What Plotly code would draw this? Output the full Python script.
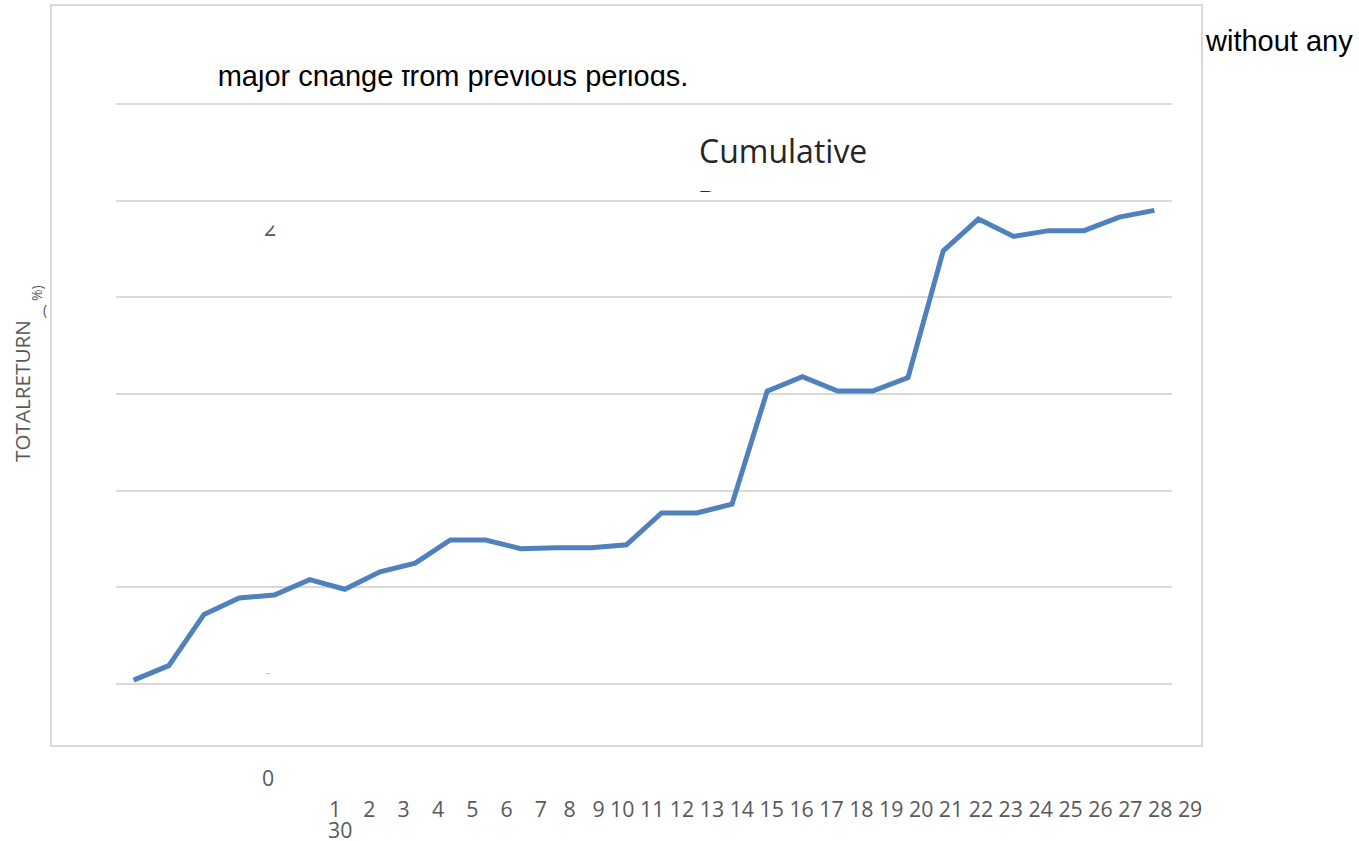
import plotly.graph_objects as go

W, H = 1359, 841

# ---- data -------------------------------------------------------------
periods = list(range(1, 31))
cumulative_return = [0.04, 0.19, 0.72, 0.89, 0.92, 1.08, 0.98, 1.16, 1.25, 1.49,
                     1.49, 1.40, 1.41, 1.41, 1.44, 1.77, 1.77, 1.86, 3.03, 3.18,
                     3.03, 3.03, 3.17, 4.48, 4.81, 4.63, 4.69, 4.69, 4.83, 4.90]

period_labels = ["1", "2", "3", "4", "5", "6", "7", "8", "9", "10",
                 "11", "12", "13", "14", "15", "16", "17", "18", "19", "20",
                 "21", "22", "23", "24", "25", "26", "27", "28", "29"]
first_label = "0"
last_label = "30"

body_text_right = "without any"
body_text_left = "major change from previous periods."
chart_title = ["Cumulative", "Return"]
y_title = "TOTALRETURN"

# ---- styling ------------------------------------------------------------
LINE_BLUE = "#4f81bd"
GRID = "#d9d9d9"
LABEL_GREY = "#595959"
ARIAL = "Liberation Sans, Arial, sans-serif"
SANS = "Open Sans, Roboto, sans-serif"
MID = 0.16  # baseline offset (in em) of a "middle" text point


def fx(p):
    return p / W


def fy(p):
    return 1 - p / H


# label row: wider gaps after the single-digit labels
NB = "\u00a0"
gaps = []
for lab in period_labels[:-1]:
    if len(lab) == 1 and int(lab) <= 6:
        gaps.append(4)
    elif lab in ("7", "8"):
        gaps.append(3)
    else:
        gaps.append(1)
row_text = "".join(lab + NB * g for lab, g in zip(period_labels, gaps + [0]))

fig = go.Figure()

# main series
fig.add_trace(go.Scatter(
    x=periods, y=cumulative_return, mode="lines",
    line=dict(color=LINE_BLUE, width=5),
    hoverinfo="skip", showlegend=False, xaxis="x", yaxis="y",
))

layout = dict(
    width=W, height=H, autosize=False,
    margin=dict(l=0, r=0, t=0, b=0, pad=0),
    paper_bgcolor="white", plot_bgcolor="rgba(0,0,0,0)",
    showlegend=False,
    xaxis=dict(domain=[fx(116), fx(1172)], range=[0.5, 30.5],
               showgrid=False, zeroline=False, showline=False,
               showticklabels=False, ticks="", fixedrange=True),
    yaxis=dict(domain=[fy(684 + 4.83), fy(104 - 4.83)], range=[-0.05, 6.05],
               tick0=0, dtick=1, showgrid=True, gridcolor=GRID, gridwidth=2,
               zeroline=False, showline=False, showticklabels=False,
               ticks="", fixedrange=True),
)


# text fragments that are cut off by a window: each one lives in its own
# invisible subplot whose plotting area acts as the clip rectangle
def clipped_text(idx, text, cx, baseline, box, font):
    left, top, right, bottom = box
    layout[f"xaxis{idx}"] = dict(domain=[fx(left), fx(right)], range=[left, right],
                                 visible=False, anchor=f"y{idx}", fixedrange=True)
    layout[f"yaxis{idx}"] = dict(domain=[fy(bottom), fy(top)], range=[bottom, top],
                                 visible=False, anchor=f"x{idx}", fixedrange=True)
    fig.add_trace(go.Scatter(
        x=[cx], y=[baseline - MID * font["size"]], mode="text", text=[text],
        textposition="middle center", textfont=font, cliponaxis=True,
        hoverinfo="skip", showlegend=False, xaxis=f"x{idx}", yaxis=f"y{idx}",
    ))


clipped_text(2, body_text_left, 453, 83, (200, 70, 720, 100),
             dict(family=ARIAL, size=29, color="black"))
clipped_text(3, chart_title[1], 748, 212, (680, 176, 880, 192),
             dict(family=SANS, size=32, color="#262626"))
clipped_text(4, "2", 270, 234, (255, 225.5, 285, 240),
             dict(family=SANS, size=21.3, color=LABEL_GREY))
clipped_text(5, "0", 268, 687, (255, 670, 285, 674),
             dict(family=SANS, size=21.3, color="#bfbfbf"))

annotations = [
    dict(text=body_text_right, x=fx(1203), y=fy(41), xanchor="left", yanchor="middle",
         font=dict(family=ARIAL, size=29, color="black")),
    dict(text=chart_title[0], x=fx(782.5), y=fy(150.6), xanchor="center", yanchor="middle",
         font=dict(family=SANS, size=32, color="#262626")),
    dict(text=y_title, x=fx(22), y=fy(391), textangle=-90, xanchor="center", yanchor="middle",
         font=dict(family=SANS, size=20.7, color=LABEL_GREY)),
    dict(text="%)", x=fx(37), y=fy(293), textangle=-90, xanchor="center", yanchor="middle",
         font=dict(family=SANS, size=14, color=LABEL_GREY)),
    dict(text="(", x=fx(45), y=fy(309), xanchor="center", yanchor="middle",
         font=dict(family=SANS, size=14, color=LABEL_GREY)),
    dict(text=first_label, x=fx(268), y=fy(777), xanchor="center", yanchor="middle",
         font=dict(family=SANS, size=21.3, color=LABEL_GREY)),
    dict(text=row_text, x=fx(327), y=fy(808), xanchor="left", yanchor="middle",
         font=dict(family=SANS, size=21.3, color=LABEL_GREY)),
    dict(text=last_label, x=fx(340), y=fy(829), xanchor="center", yanchor="middle",
         font=dict(family=SANS, size=21.3, color=LABEL_GREY)),
]
for a in annotations:
    a.update(xref="paper", yref="paper", showarrow=False)
layout["annotations"] = annotations

layout["shapes"] = [dict(type="rect", xref="paper", yref="paper",
                         x0=fx(51), x1=fx(1202), y0=fy(746), y1=fy(5),
                         line=dict(color=GRID, width=2), layer="below")]

fig.update_layout(**layout)
fig.write_html("out.html", config={"displayModeBar": False, "staticPlot": True})
